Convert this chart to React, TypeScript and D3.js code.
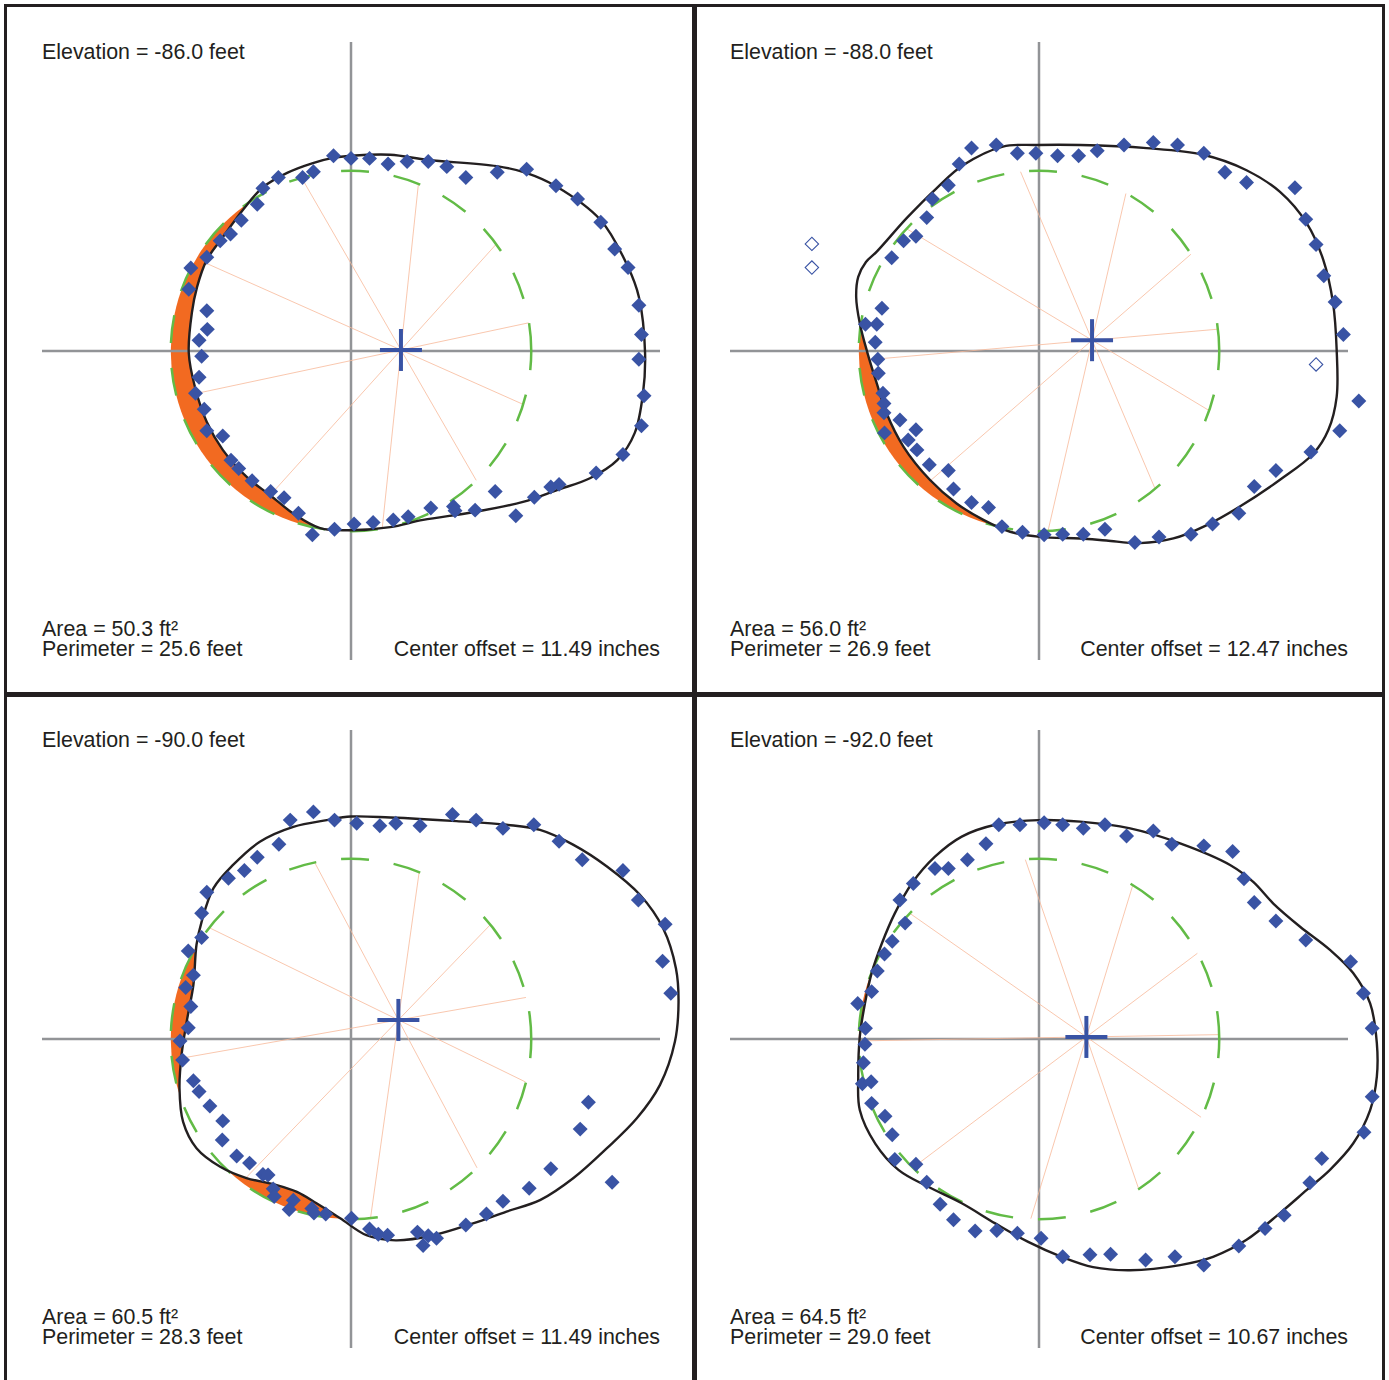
import React, { useEffect, useRef } from "react";
import * as d3 from "d3";

type P = [number, number];

// ---------- labels ----------
const elevations = ["-86.0", "-88.0", "-90.0", "-92.0"];
const areas = ["50.3", "56.0", "60.5", "64.5"];
const perimeters = ["25.6", "26.9", "28.3", "29.0"];
const centerOffsets = ["11.49", "12.47", "11.49", "10.67"];

// ---------- geometry (feet) ----------
const designRadius = 3.5;
const fittedCenters: P[] = [[0.97, 0.02], [1.03, 0.21], [0.92, 0.37], [0.92, 0.04]];
const spokeStartDeg = [-12, -5, -10, -1];
const spokeCount = 10;

// ---------- panel 1 (-86 ft) ----------
const points1: P[] = [
  [-0.34, 3.79], [0, 3.74], [0.36, 3.74], [0.72, 3.63], [-0.73, 3.48], [-0.94, 3.37], [-1.41, 3.37],
  [-1.71, 3.16], [-1.82, 2.85], [-2.13, 2.54], [-2.34, 2.27], [-2.54, 2.14], [-2.8, 1.82], [-3.11, 1.61],
  [-3.15, 1.2], [-2.8, 0.78], [-2.79, 0.42], [-2.95, 0.21], [-2.9, -0.1], [-2.95, -0.51], [-3.02, -0.82],
  [-2.85, -1.13], [-2.8, -1.55], [-2.49, -1.65], [-2.33, -2.12], [-2.18, -2.28], [-1.92, -2.52],
  [-1.56, -2.73], [-1.3, -2.85], [-1.02, -3.15], [-0.75, -3.57], [-0.32, -3.46], [0.06, -3.36],
  [0.43, -3.33], [0.82, -3.28], [1.09, 3.68], [1.5, 3.68], [1.86, 3.58], [2.23, 3.37], [2.84, 3.47],
  [3.41, 3.53], [3.98, 3.21], [4.4, 2.95], [4.85, 2.5], [5.12, 1.98], [5.38, 1.62], [5.59, 0.89],
  [5.64, 0.32], [5.59, -0.16], [5.69, -0.87], [5.64, -1.45], [5.28, -2.01], [4.76, -2.37], [4.04, -2.59],
  [3.88, -2.64], [3.56, -2.84], [2.8, -2.73], [3.2, -3.2], [2.41, -3.09], [1.99, -3.02], [2.02, -3.1],
  [1.55, -3.05], [1.11, -3.22],
];
const outliers1: P[] = [];
const curve1: P[] = [
  [0, 3.79], [0.76, 3.81], [1.5, 3.71], [2.83, 3.59], [3.4, 3.46], [3.98, 3.2], [4.85, 2.54], [5.38, 1.63],
  [5.59, 1.05], [5.71, -0.04], [5.67, -0.82], [5.51, -1.59], [5.17, -2.12], [4.64, -2.47], [4.0, -2.7],
  [3.34, -2.93], [2.37, -3.13], [1.4, -3.28], [0.76, -3.42], [0, -3.48], [-0.6, -3.44], [-1.13, -3.15],
  [-1.57, -2.8], [-2.02, -2.45], [-2.49, -1.92], [-2.8, -1.38], [-3.03, -0.7], [-3.15, -0.04],
  [-3.09, 0.74], [-2.99, 1.24], [-2.8, 1.77], [-2.49, 2.21], [-2.1, 2.74], [-1.71, 3.18], [-1.24, 3.46],
  [-0.74, 3.65], [-0.35, 3.75],
];

// ---------- panel 2 (-88 ft) ----------
const points2: P[] = [
  [-1.31, 3.94], [-0.83, 4.0], [-0.42, 3.84], [-0.06, 3.84], [0.36, 3.79], [0.77, 3.79], [-1.55, 3.63],
  [-1.76, 3.22], [-2.07, 2.95], [-2.18, 2.59], [-2.39, 2.23], [-2.63, 2.14], [-2.86, 1.81], [-3.05, 0.83],
  [-3.37, 0.52], [-3.15, 0.52], [-3.18, 0.17], [-3.13, -0.16], [-3.12, -0.43], [-3.03, -0.82],
  [-3.01, -1.02], [-3.01, -1.2], [-3.0, -1.59], [-2.7, -1.34], [-2.39, -1.53], [-2.54, -1.73],
  [-2.37, -1.92], [-2.13, -2.21], [-1.76, -2.32], [-1.66, -2.68], [-1.31, -2.94], [-0.98, -3.04],
  [-0.72, -3.41], [-0.32, -3.52], [0.1, -3.57], [0.46, -3.56], [0.86, -3.56], [1.13, 3.89], [1.65, 4.0],
  [2.22, 4.05], [2.69, 4.0], [3.2, 3.84], [3.61, 3.47], [4.03, 3.27], [4.97, 3.17], [5.18, 2.56],
  [5.38, 2.07], [5.53, 1.46], [5.75, 0.95], [5.91, 0.32], [6.21, -0.97], [5.84, -1.55], [5.28, -1.96],
  [4.6, -2.32], [4.18, -2.63], [3.88, -3.15], [3.37, -3.36], [2.95, -3.56], [2.33, -3.61], [1.86, -3.72],
  [1.28, -3.46],
];
const outliers2: P[] = [[-4.41, 2.08], [-4.41, 1.62], [5.38, -0.26]];
const curve2: P[] = [
  [0.8, 4.0], [2.09, 3.94], [3.19, 3.81], [4.03, 3.51], [4.68, 3.09], [5.2, 2.48], [5.52, 1.77],
  [5.71, 0.93], [5.78, 0.02], [5.78, -0.89], [5.62, -1.53], [5.33, -1.99], [4.68, -2.5], [3.9, -3.02],
  [3.26, -3.38], [2.61, -3.64], [1.96, -3.73], [1.31, -3.68], [0.8, -3.64], [0.02, -3.61], [-0.56, -3.51],
  [-1.08, -3.28], [-1.6, -2.96], [-2.12, -2.5], [-2.63, -1.86], [-2.96, -1.21], [-3.15, -0.63],
  [-3.33, -0.04], [-3.48, 0.54], [-3.55, 1.05], [-3.51, 1.44], [-3.36, 1.73], [-3.15, 1.93],
  [-2.57, 2.58], [-1.99, 3.16], [-1.47, 3.61], [-0.7, 3.97], [-0.04, 4.0],
];

// ---------- panel 3 (-90 ft) ----------
const points3: P[] = [
  [-1.18, 4.25], [-0.73, 4.41], [-0.32, 4.25], [0.11, 4.19], [0.56, 4.14], [0.87, 4.19], [-1.4, 3.78],
  [-1.82, 3.53], [-2.07, 3.27], [-2.38, 3.12], [-2.8, 2.85], [-2.9, 2.44], [-2.9, 1.97], [-3.16, 1.71],
  [-3.06, 1.24], [-3.21, 1.0], [-3.11, 0.63], [-3.16, 0.22], [-3.32, -0.04], [-3.27, -0.41],
  [-3.06, -0.81], [-2.95, -1.02], [-2.74, -1.3], [-2.49, -1.59], [-2.5, -1.96], [-2.22, -2.27],
  [-1.97, -2.41], [-1.71, -2.63], [-1.61, -2.64], [-1.51, -2.91], [-1.49, -3.06], [-1.12, -3.13],
  [-1.2, -3.31], [-0.76, -3.29], [-0.72, -3.38], [-0.49, -3.4], [0.01, -3.48], [0.36, -3.69],
  [0.53, -3.79], [0.71, -3.81], [1.34, 4.14], [1.97, 4.36], [2.43, 4.25], [2.95, 4.09], [3.55, 4.16],
  [4.04, 3.84], [4.49, 3.48], [5.28, 3.27], [5.58, 2.7], [6.1, 2.23], [6.05, 1.51], [6.21, 0.89],
  [4.61, -1.23], [4.45, -1.75], [5.07, -2.78], [3.88, -2.52], [3.46, -2.9], [2.95, -3.15], [2.63, -3.4],
  [2.23, -3.61], [1.66, -3.87], [1.5, -3.82], [1.29, -3.75], [1.4, -4.01],
];
const outliers3: P[] = [];
const curve3: P[] = [
  [0, 4.32], [0.76, 4.3], [2.05, 4.23], [3.02, 4.16], [3.67, 4.06], [4.32, 3.77], [4.97, 3.35],
  [5.61, 2.8], [6.06, 2.15], [6.31, 1.37], [6.36, 0.72], [6.29, -0.05], [6.0, -0.89], [5.55, -1.54],
  [4.97, -2.12], [4.32, -2.7], [3.67, -3.13], [3.02, -3.35], [2.37, -3.58], [1.6, -3.81], [0.87, -3.91],
  [0.3, -3.81], [-0.21, -3.48], [-0.67, -3.19], [-1.05, -2.97], [-1.51, -2.82], [-2.03, -2.7],
  [-2.54, -2.48], [-3.0, -2.12], [-3.26, -1.61], [-3.33, -0.96], [-3.29, -0.31], [-3.19, 0.34],
  [-3.06, 1.05], [-3.0, 1.83], [-2.9, 2.28], [-2.67, 2.93], [-2.29, 3.38], [-1.77, 3.83], [-1.12, 4.12],
  [-0.47, 4.25],
];

// ---------- panel 4 (-92 ft) ----------
const points4: P[] = [
  [-0.78, 4.16], [-0.37, 4.16], [0.1, 4.2], [0.46, 4.16], [0.86, 4.09], [-1.03, 3.79], [-1.39, 3.48],
  [-1.76, 3.31], [-2.02, 3.31], [-2.44, 3.02], [-2.7, 2.7], [-2.6, 2.25], [-2.85, 1.9], [-3.0, 1.65],
  [-3.14, 1.32], [-3.25, 0.92], [-3.52, 0.69], [-3.37, 0.21], [-3.38, -0.1], [-3.41, -0.46],
  [-3.43, -0.87], [-3.26, -0.83], [-3.25, -1.25], [-2.99, -1.5], [-2.85, -1.86], [-2.8, -2.34],
  [-2.39, -2.43], [-2.18, -2.78], [-1.92, -3.21], [-1.66, -3.51], [-1.24, -3.73], [-0.82, -3.72],
  [-0.42, -3.77], [0.04, -3.87], [0.46, -4.23], [0.99, -4.19], [1.28, 4.16], [1.7, 3.94], [2.22, 4.04],
  [2.58, 3.78], [3.2, 3.75], [3.76, 3.64], [3.98, 3.11], [4.18, 2.65], [4.6, 2.29], [5.18, 1.92],
  [6.05, 1.5], [6.3, 0.89], [6.47, 0.21], [6.47, -1.12], [6.31, -1.81], [5.49, -2.32], [5.26, -2.79],
  [4.76, -3.42], [4.39, -3.68], [3.88, -4.02], [3.2, -4.39], [2.64, -4.23], [2.07, -4.29], [1.39, -4.18],
];
const outliers4: P[] = [];
const curve4: P[] = [
  [-0.01, 4.25], [0.8, 4.22], [1.77, 4.09], [2.74, 3.8], [3.71, 3.38], [4.16, 3.05], [4.55, 2.63],
  [5.07, 2.18], [5.65, 1.73], [6.1, 1.28], [6.43, 0.69], [6.56, -0.08], [6.56, -0.73], [6.43, -1.38],
  [6.1, -2.03], [5.65, -2.54], [5.2, -2.93], [4.68, -3.38], [4.03, -3.9], [3.38, -4.23], [2.74, -4.39],
  [1.77, -4.49], [1.05, -4.43], [0.44, -4.23], [-0.21, -3.94], [-0.85, -3.58], [-1.5, -3.19],
  [-2.15, -2.87], [-2.73, -2.54], [-3.18, -2.03], [-3.48, -1.38], [-3.51, -0.73], [-3.48, 0.04],
  [-3.38, 0.69], [-3.25, 1.28], [-3.05, 1.86], [-2.8, 2.44], [-2.47, 3.02], [-2.02, 3.54], [-1.5, 3.93],
  [-0.85, 4.16],
];

const panelPoints = [points1, points2, points3, points4];
const panelOutliers = [outliers1, outliers2, outliers3, outliers4];
const panelCurves = [curve1, curve2, curve3, curve4];

const W = 1389;
const H = 1380;
const CELL = 688;
const BLUE = "#3953a4";
const INK = "#231f20";
const FONT = "'Liberation Sans', Arial, Helvetica, sans-serif";

export default function App() {
  const ref = useRef<SVGSVGElement>(null);

  useEffect(() => {
    const svg = d3.select(ref.current!);
    svg.selectAll("*").remove();
    svg.append("rect").attr("width", W).attr("height", H).attr("fill", "#fff");
    const defs = svg.append("defs");

    for (let i = 0; i < 4; i++) {
      const col = i % 2;
      const row = Math.floor(i / 2);
      const ox = col * CELL;
      const oy = row * CELL;
      const x = d3.scaleLinear().domain([-6, 6]).range([42 + ox, 660 + ox]);
      const y = d3.scaleLinear().domain([-6, 6]).range([660 + oy, 42 + oy]);

      const gFill = svg.append("g");
      const gAxes = svg.append("g");
      const gSpokes = svg.append("g");
      const gCircle = svg.append("g");
      const gCurve = svg.append("g");
      const gPts = svg.append("g");
      const gCross = svg.append("g");
      const gText = svg.append("g");

      const line = d3
        .line<P>()
        .x((d) => x(d[0]))
        .y((d) => y(d[1]))
        .curve(d3.curveCatmullRomClosed.alpha(0.5));
      const curveD = line(panelCurves[i]) as string;

      const cx = x(0);
      const cy = y(0);
      const R = x(designRadius) - x(0);
      const cp = d3.path();
      cp.moveTo(cx + R, cy);
      cp.arc(cx, cy, R, 0, -Math.PI, true);
      cp.arc(cx, cy, R, -Math.PI, -2 * Math.PI, true);
      const circleD = cp.toString();

      // orange: inside design circle, outside measured outline
      const mask = defs
        .append("mask")
        .attr("id", `m${i}`)
        .attr("maskUnits", "userSpaceOnUse")
        .attr("x", 0)
        .attr("y", 0)
        .attr("width", W)
        .attr("height", H);
      mask.append("rect").attr("width", W).attr("height", H).attr("fill", "white");
      mask.append("path").attr("d", curveD).attr("fill", "black");
      gFill.append("path").attr("d", circleD).attr("fill", "#f26a21").attr("mask", `url(#m${i})`);

      // axes
      gAxes
        .append("line")
        .attr("x1", x(-6)).attr("x2", x(6)).attr("y1", y(0)).attr("y2", y(0))
        .attr("stroke", "#929497").attr("stroke-width", 2.5);
      gAxes
        .append("line")
        .attr("x1", x(0)).attr("x2", x(0)).attr("y1", y(-6)).attr("y2", y(6))
        .attr("stroke", "#929497").attr("stroke-width", 2.5);

      // measured outline
      const curvePath = gCurve
        .append("path")
        .attr("d", curveD)
        .attr("fill", "none")
        .attr("stroke", INK)
        .attr("stroke-width", 2.4);

      // sample outline into polygon
      const node = curvePath.node() as SVGPathElement;
      const total = node.getTotalLength();
      const poly: [number, number][] = [];
      for (let k = 0; k < 500; k++) {
        const pt = node.getPointAtLength((k / 500) * total);
        poly.push([pt.x, pt.y]);
      }

      // spokes from fitted center
      const fc = fittedCenters[i];
      const fx = x(fc[0]);
      const fy = y(fc[1]);
      for (let s = 0; s < spokeCount; s++) {
        const a = ((spokeStartDeg[i] + s * (360 / spokeCount)) * Math.PI) / 180;
        const dx = Math.cos(a);
        const dy = Math.sin(a);
        let ex = fx;
        let ey = fy;
        for (let t = 0; t < 500; t += 0.5) {
          const px = fx + dx * t;
          const py = fy + dy * t;
          const inCircle = Math.hypot(px - cx, py - cy) <= R;
          const inCurve = d3.polygonContains(poly, [px, py]);
          if (!inCircle || !inCurve) break;
          ex = px;
          ey = py;
        }
        gSpokes
          .append("line")
          .attr("x1", fx).attr("y1", fy).attr("x2", ex).attr("y2", ey)
          .attr("stroke", "#f7b999").attr("stroke-width", 0.8);
      }

      // design circle
      gCircle
        .append("path")
        .attr("d", circleD)
        .attr("fill", "none")
        .attr("stroke", "#62bb46")
        .attr("stroke-width", 2.5)
        .attr("stroke-dasharray", "28 25");

      // points
      const sym = d3.symbol().type(d3.symbolSquare).size(112);
      gPts
        .selectAll("path.pt")
        .data(panelPoints[i])
        .join("path")
        .attr("class", "pt")
        .attr("d", sym as any)
        .attr("transform", (d) => `translate(${x(d[0])},${y(d[1])}) rotate(45)`)
        .attr("fill", BLUE);
      const symO = d3.symbol().type(d3.symbolSquare).size(90);
      gPts
        .selectAll("path.out")
        .data(panelOutliers[i])
        .join("path")
        .attr("class", "out")
        .attr("d", symO as any)
        .attr("transform", (d) => `translate(${x(d[0])},${y(d[1])}) rotate(45)`)
        .attr("fill", "#fff")
        .attr("stroke", BLUE)
        .attr("stroke-width", 1.1);

      // fitted center cross
      gCross
        .append("line")
        .attr("x1", fx - 21).attr("x2", fx + 21).attr("y1", fy).attr("y2", fy)
        .attr("stroke", BLUE).attr("stroke-width", 4);
      gCross
        .append("line")
        .attr("x1", fx).attr("x2", fx).attr("y1", fy - 21).attr("y2", fy + 21)
        .attr("stroke", BLUE).attr("stroke-width", 4);

      // texts
      const txt = (s: string, tx: number, ty: number, anchor = "start") =>
        gText
          .append("text")
          .attr("x", tx)
          .attr("y", ty)
          .attr("text-anchor", anchor)
          .attr("font-family", FONT)
          .attr("font-size", 21.4)
          .attr("fill", INK)
          .text(s);
      txt(`Elevation = ${elevations[i]} feet`, 42 + ox, 59 + oy);
      txt(`Area = ${areas[i]} ft²`, 42 + ox, 635.5 + oy);
      txt(`Perimeter = ${perimeters[i]} feet`, 42 + ox, 656 + oy);
      txt(`Center offset = ${centerOffsets[i]} inches`, 660 + ox, 656 + oy, "end");
    }

    // frame
    svg
      .append("rect")
      .attr("x", 5.5).attr("y", 5.5).attr("width", 1378).attr("height", 1382)
      .attr("fill", "none").attr("stroke", INK).attr("stroke-width", 3);
    svg
      .append("line")
      .attr("x1", 694.5).attr("x2", 694.5).attr("y1", 4).attr("y2", H)
      .attr("stroke", INK).attr("stroke-width", 5);
    svg
      .append("line")
      .attr("x1", 4).attr("x2", 1385).attr("y1", 694.5).attr("y2", 694.5)
      .attr("stroke", INK).attr("stroke-width", 5);
  }, []);

  return (
    <svg
      ref={ref}
      width={W}
      height={H}
      style={{ position: "fixed", left: 0, top: 0, display: "block" }}
    />
  );
}
